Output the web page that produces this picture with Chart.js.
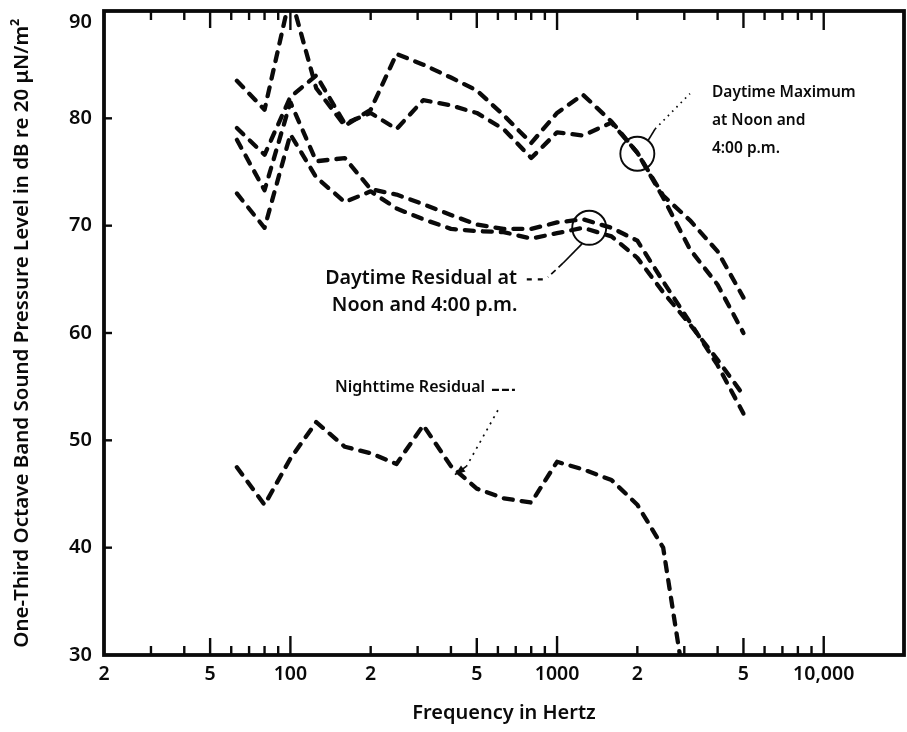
<!DOCTYPE html>
<html>
<head>
<meta charset="utf-8">
<script src="https://cdn.jsdelivr.net/npm/chart.js@4.4.1/dist/chart.umd.min.js"></script>
<style>
  html, body { margin: 0; padding: 0; background: #fff; }
  #wrap { width: 907px; height: 732px; position: relative; }
</style>
</head>
<body>
<div id="wrap"><canvas id="c" width="907" height="732"></canvas></div>
<script>
// One-third octave band centre frequencies (Hz)
const bandsHz = [63, 80, 100, 125, 160, 200, 250, 315, 400, 500, 630, 800, 1000, 1250, 1600, 2000, 2500, 3150, 4000, 5000];

// Band levels, dB re 20 uN/m^2
const dayMaxNoon = [83.5, 80.8, 91.5, 82.8, 79.3, 80.8, 86.0, 85.0, 83.8, 82.6, 80.3, 77.7, 80.5, 82.2, 79.7, 76.8, 72.8, 70.5, 67.6, 63.3];
const dayMax4pm  = [79.1, 76.6, 82.0, 84.0, 79.5, 80.5, 79.0, 81.7, 81.2, 80.5, 79.0, 76.3, 78.7, 78.4, 79.6, 76.8, 72.6, 67.8, 64.5, 60.0];
const dayResNoon = [78.0, 73.3, 81.5, 76.0, 76.3, 73.4, 72.9, 72.0, 71.0, 70.1, 69.7, 69.7, 70.3, 70.6, 69.8, 68.6, 64.8, 61.0, 57.0, 52.5];
const dayRes4pm  = [73.0, 69.8, 78.5, 74.5, 72.2, 73.2, 71.6, 70.6, 69.7, 69.5, 69.4, 68.8, 69.3, 69.8, 69.0, 67.0, 63.8, 60.8, 57.5, 54.2];
const nightRes   = [47.5, 44.0, 48.3, 51.7, 49.4, 48.8, 47.8, 51.4, 47.6, 45.5, 44.6, 44.2, 48.0, 47.3, 46.3, 44.0, 40.0, 24.0];

// Axis ticks
const freqTickValues = [20, 50, 100, 200, 500, 1000, 2000, 5000, 10000];
const freqTickLabels = ['2', '5', '100', '2', '5', '1000', '2', '5', '10,000'];
const levelTickValues = [30, 40, 50, 60, 70, 80, 90];

// Callouts anchored at (frequency, level)
const circleMarks = [
  { f: 2000, db: 76.7 },
  { f: 1320, db: 69.8 }
];
const calloutTexts = [
  { text: 'Daytime Maximum',     f: 3810, db: 82.4, group: 'max' },
  { text: 'at Noon and',         f: 3810, db: 79.8, group: 'max' },
  { text: '4:00 p.m.',           f: 3810, db: 77.2, group: 'max' },
  { text: 'Daytime Residual at', f: 135,  db: 65.1, group: 'res' },
  { text: 'Noon and 4:00 p.m.',  f: 143,  db: 62.6, group: 'res' },
  { text: 'Nighttime Residual',  f: 147,  db: 54.9, group: 'night' }
];

const INK = '#0a0a0a';
const FONT = '"Noto Sans", "DejaVu Sans", sans-serif';
const calloutFontSize = { max: 15.5, res: 19.7, night: 16 };

function toSeries(values) {
  return values.map((v, i) => ({ x: bandsHz[i], y: v }));
}

function lineStyle(values) {
  return {
    data: toSeries(values),
    borderColor: INK,
    borderWidth: 4.3,
    borderDash: [9, 9],
    borderCapStyle: 'round',
    borderJoinStyle: 'round',
    pointRadius: 0,
    tension: 0,
    fill: false,
    clip: 0
  };
}

const framePlugin = {
  id: 'frame',
  afterDatasetsDraw(chart) {
    const { ctx, chartArea: a, scales } = chart;
    const xs = scales.x, ys = scales.y;
    const P = (f, db) => [xs.getPixelForValue(f), ys.getPixelForValue(db)];
    const seg = (p, q) => { ctx.beginPath(); ctx.moveTo(p[0], p[1]); ctx.lineTo(q[0], q[1]); ctx.stroke(); };
    ctx.save();
    ctx.strokeStyle = INK;
    ctx.fillStyle = INK;

    // plot frame
    ctx.lineWidth = 3.8;
    ctx.setLineDash([]);
    ctx.strokeRect(a.left, a.top, a.right - a.left, a.bottom - a.top);

    // inward log ticks on bottom and top edges
    ctx.lineWidth = 2.4;
    for (let d = 10; d <= 10000; d *= 10) {
      for (let m = 2; m <= 9; m++) {
        const f = m * d;
        if (f <= 20 || f >= 20000) continue;
        const x = xs.getPixelForValue(f);
        const len = (m === 5) ? 17 : 9;
        seg([x, a.bottom], [x, a.bottom - len]);
        seg([x, a.top], [x, a.top + len]);
      }
      if (d >= 100) {
        const x = xs.getPixelForValue(d);
        seg([x, a.bottom], [x, a.bottom - 19]);
        seg([x, a.top], [x, a.top + 19]);
      }
    }

    // level ticks (inward) and their labels; the top label sits just inside the frame
    ctx.font = '600 20px ' + FONT;
    ctx.textAlign = 'right';
    ctx.textBaseline = 'middle';
    ys.ticks.forEach((t, i) => {
      const y = ys.getPixelForValue(t.value);
      if (i > 0 && i < ys.ticks.length - 1) seg([a.left, y], [a.left + 8, y]);
      ctx.fillText(String(t.value), a.left - 12, Math.max(y, a.top + 11));
    });

    // circles around the marked bands
    ctx.lineWidth = 1.9;
    circleMarks.forEach(c => {
      const [cx, cy] = P(c.f, c.db);
      ctx.beginPath();
      ctx.arc(cx, cy, 17, 0, Math.PI * 2);
      ctx.stroke();
    });

    // leader: daytime maximum
    ctx.lineWidth = 1.7;
    seg(P(2190, 77.9), P(2330, 79.0));
    ctx.setLineDash([1.6, 4.5]);
    seg(P(2330, 79.0), P(3150, 82.3));

    // leader: daytime residual
    ctx.setLineDash([]);
    seg(P(1240, 68.3), P(1052, 66.5));
    ctx.setLineDash([6, 4]);
    seg(P(1052, 66.5), P(924, 65.2));
    ctx.lineWidth = 2.3;
    ctx.setLineDash([5, 6]);
    seg(P(770, 65.0), P(915, 65.0));

    // leader: nighttime residual
    ctx.setLineDash([7, 3]);
    seg(P(570, 54.7), P(695, 54.7));
    ctx.lineWidth = 1.7;
    ctx.setLineDash([2, 5]);
    const q2 = P(458, 47.6);
    seg(P(600, 52.8), q2);
    ctx.setLineDash([]);
    const tip = P(414, 46.8);
    const ang = Math.atan2(tip[1] - q2[1], tip[0] - q2[0]);
    ctx.beginPath();
    ctx.moveTo(tip[0], tip[1]);
    ctx.lineTo(tip[0] - 11 * Math.cos(ang - 0.35), tip[1] - 11 * Math.sin(ang - 0.35));
    ctx.lineTo(tip[0] - 11 * Math.cos(ang + 0.35), tip[1] - 11 * Math.sin(ang + 0.35));
    ctx.closePath();
    ctx.fill();
    seg(q2, tip);

    // callout texts
    ctx.textAlign = 'left';
    ctx.textBaseline = 'middle';
    calloutTexts.forEach(t => {
      ctx.font = '600 ' + calloutFontSize[t.group] + 'px ' + FONT;
      const [x, y] = P(t.f, t.db);
      ctx.fillText(t.text, x, y);
    });
    ctx.restore();
  }
};

new Chart(document.getElementById('c'), {
  type: 'line',
  data: {
    datasets: [
      lineStyle(dayMaxNoon),
      lineStyle(dayMax4pm),
      lineStyle(dayResNoon),
      lineStyle(dayRes4pm),
      lineStyle(nightRes)
    ]
  },
  options: {
    responsive: false,
    animation: false,
    devicePixelRatio: 1,
    layout: { padding: { top: 0, right: 3, left: 0, bottom: 0 } },
    plugins: { legend: { display: false }, tooltip: { enabled: false } },
    scales: {
      x: {
        type: 'logarithmic',
        min: 20,
        max: 20000,
        afterBuildTicks: s => { s.ticks = freqTickValues.map(v => ({ value: v })); },
        afterFit: s => { s.height = 77; s.paddingLeft = 0; s.paddingRight = 0; },
        grid: { display: false, drawTicks: false },
        border: { display: false },
        ticks: {
          autoSkip: false,
          maxRotation: 0,
          padding: 8,
          color: INK,
          font: { family: FONT, size: 19.5, weight: '600' },
          callback: v => {
            const i = freqTickValues.indexOf(v);
            return i >= 0 ? freqTickLabels[i] : '';
          }
        },
        title: {
          display: true,
          text: 'Frequency in Hertz',
          color: INK,
          font: { family: FONT, size: 20, weight: '600' },
          padding: { top: 0, bottom: 7 }
        }
      },
      y: {
        type: 'linear',
        min: 30,
        max: 90,
        afterBuildTicks: s => { s.ticks = levelTickValues.map(v => ({ value: v })); },
        afterFit: s => { s.width = 104; s.paddingTop = 11; s.paddingBottom = 0; },
        grid: { display: false, drawTicks: false },
        border: { display: false },
        ticks: { display: false },
        title: {
          display: true,
          text: 'One-Third Octave Band Sound Pressure Level in dB re 20 μN/m²',
          color: INK,
          font: { family: FONT, size: 20.5, weight: '600' },
          padding: { top: 10, bottom: 0 }
        }
      }
    }
  },
  plugins: [framePlugin]
});
</script>
</body>
</html>
